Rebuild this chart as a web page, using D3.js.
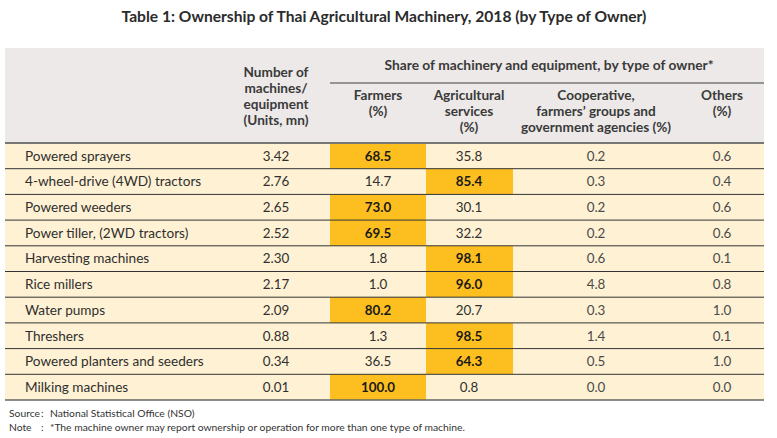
<!DOCTYPE html>
<html>
<head>
<meta charset="utf-8">
<script src="https://cdn.jsdelivr.net/npm/d3@7"></script>
<style>
  body { margin: 0; background: #fff; }
  svg { display: block; font-family: Lato, "Open Sans", sans-serif; }
</style>
</head>
<body>
<div id="chart"></div>
<script>
// Table data
const machines = [
    'Powered sprayers', '4-wheel-drive (4WD) tractors', 'Powered weeders',
    'Power tiller, (2WD tractors)', 'Harvesting machines', 'Rice millers',
    'Water pumps', 'Threshers', 'Powered planters and seeders', 'Milking machines'
];
const units = ['3.42', '2.76', '2.65', '2.52', '2.30', '2.17', '2.09', '0.88', '0.34', '0.01'];
const farmers = ['68.5', '14.7', '73.0', '69.5', '1.8', '1.0', '80.2', '1.3', '36.5', '100.0'];
const agServices = ['35.8', '85.4', '30.1', '32.2', '98.1', '96.0', '20.7', '98.5', '64.3', '0.8'];
const coop = ['0.2', '0.3', '0.2', '0.2', '0.6', '4.8', '0.3', '1.4', '0.5', '0.0'];
const others = ['0.6', '0.4', '0.6', '0.6', '0.1', '0.8', '1.0', '0.1', '1.0', '0.0'];

const columnHeads = [
    ['Number of', 'machines/', 'equipment', '(Units, mn)'],
    ['Farmers', '(%)'],
    ['Agricultural', 'services', '(%)'],
    ['Cooperative,', 'farmers\u2019 groups and', 'government agencies (%)'],
    ['Others', '(%)']
];

const title = 'Table 1: Ownership of Thai Agricultural Machinery, 2018 (by Type of Owner)';
const groupHead = 'Share of machinery and equipment, by type of owner*';
const notes = [
    ['Source', 'National Statistical Office (NSO)'],
    ['Note', '*The machine owner may report ownership or operation for more than one type of machine.']
];

const width = 777, height = 438;
const left = 5, right = 764;
const headTop = 48, headBottom = 143, tableBottom = 400;

// column edges: label | units | farmers | ag services | coop | others
const colEdges = [left, 226, 330, 426, 513, 680, right];
const colCenters = [276, 378, 469, 596, 722];

const svg = d3.select('#chart').append('svg')
    .attr('width', width)
    .attr('height', height);

const y = d3.scaleBand()
    .domain(machines)
    .range([headBottom, tableBottom]);

// title
svg.append('text')
    .attr('x', 384).attr('y', 22)
    .attr('text-anchor', 'middle')
    .attr('font-size', 15.6).attr('font-weight', 700)
    .attr('fill', '#2b2b2b')
    .text(title);

// header band
svg.append('rect')
    .attr('x', left).attr('y', headTop)
    .attr('width', right - left).attr('height', headBottom - headTop)
    .attr('fill', '#ece9e8');

svg.append('text')
    .attr('x', 549).attr('y', 70)
    .attr('text-anchor', 'middle')
    .attr('font-size', 13.8).attr('font-weight', 700)
    .attr('fill', '#3a3a3a')
    .text(groupHead);

svg.append('line')
    .attr('x1', colEdges[2]).attr('x2', right)
    .attr('y1', 83).attr('y2', 83)
    .attr('stroke', '#777').attr('stroke-width', 1.5);

const headStart = [77, 100, 100, 100, 100];
columnHeads.forEach((lines, i) => {
    const t = svg.append('text')
        .attr('text-anchor', 'middle')
        .attr('font-size', 13.6).attr('font-weight', 700)
        .attr('fill', '#3a3a3a');
    lines.forEach((s, k) => {
        t.append('tspan')
            .attr('x', colCenters[i])
            .attr('y', headStart[i] + k * 16)
            .text(s);
    });
});

// rows
const rows = machines.map((m, i) => ({
    name: m,
    cells: [units[i], farmers[i], agServices[i], coop[i], others[i]]
}));

const row = svg.append('g').selectAll('g')
    .data(rows)
    .enter().append('g');

row.append('rect')
    .attr('x', left).attr('y', d => y(d.name))
    .attr('width', right - left).attr('height', y.bandwidth())
    .attr('fill', '#fff2d4');

// highlight the largest share in each row
row.each(function (d) {
    const shares = d.cells.slice(1).map(Number);
    const top = shares.indexOf(d3.max(shares)) + 1;
    d.top = top;
    d3.select(this).append('rect')
        .attr('x', colEdges[top + 1]).attr('y', y(d.name))
        .attr('width', colEdges[top + 2] - colEdges[top + 1])
        .attr('height', y.bandwidth())
        .attr('fill', '#fdbf1f');
});

row.append('text')
    .attr('x', 25)
    .attr('y', d => y(d.name) + y.bandwidth() / 2 + 4.8)
    .attr('font-size', 13.6)
    .attr('fill', '#2f2f2f')
    .text(d => d.name);

row.selectAll('text.val')
    .data(d => d.cells.map((v, j) => ({ v, j, name: d.name, bold: j === d.top })))
    .enter().append('text')
    .attr('class', 'val')
    .attr('x', c => colCenters[c.j])
    .attr('y', c => y(c.name) + y.bandwidth() / 2 + 4.8)
    .attr('text-anchor', 'middle')
    .attr('font-size', 13.4)
    .attr('font-weight', c => c.bold ? 700 : 400)
    .attr('fill', c => c.bold ? '#1a1a1a' : (c.j >= 3 ? '#4a4a4a' : '#2f2f2f'))
    .text(c => c.v);

// row separators
svg.append('g').selectAll('line')
    .data(machines)
    .enter().append('line')
    .attr('x1', left).attr('x2', right)
    .attr('y1', d => y(d) + y.bandwidth())
    .attr('y2', d => y(d) + y.bandwidth())
    .attr('stroke', (d, i) => i === machines.length - 1 ? '#666' : '#333')
    .attr('stroke-width', (d, i) => i === machines.length - 1 ? 1.5 : 1);

svg.append('line')
    .attr('x1', left).attr('x2', right)
    .attr('y1', headBottom).attr('y2', headBottom)
    .attr('stroke', '#777').attr('stroke-width', 2);

// footnotes
notes.forEach((n, i) => {
    const g = svg.append('g')
        .attr('font-size', 10.3)
        .attr('fill', '#333');
    g.append('text').attr('x', 9).attr('y', 417 + i * 14).text(n[0]);
    g.append('text').attr('x', 41).attr('y', 417 + i * 14).text(':');
    g.append('text').attr('x', 50).attr('y', 417 + i * 14).text(n[1]);
});
</script>
</body>
</html>
